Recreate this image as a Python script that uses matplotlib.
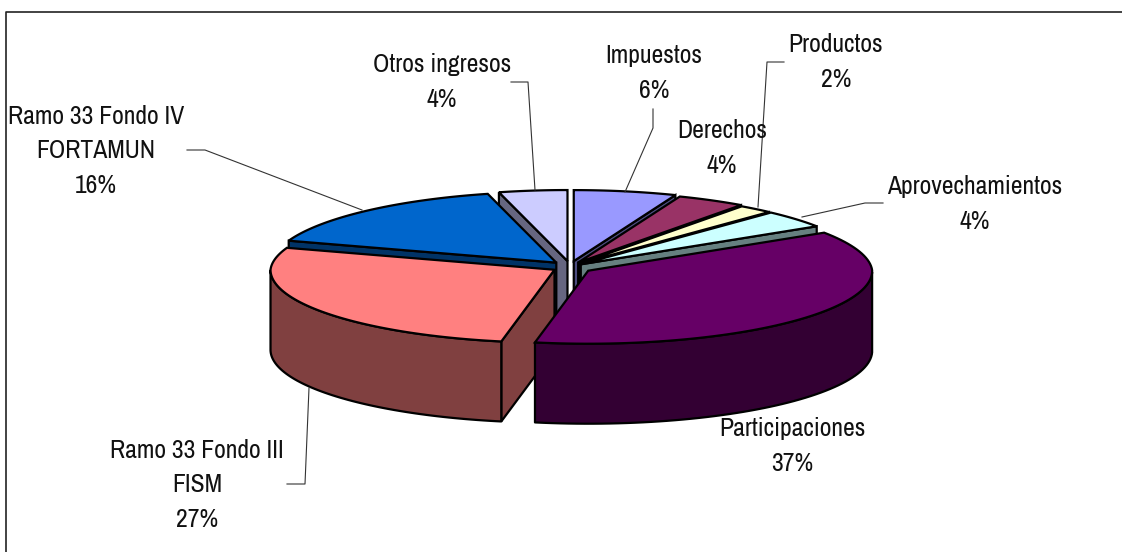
import numpy as np
import matplotlib
matplotlib.use("Agg")
import matplotlib.pyplot as plt
from matplotlib.patches import Polygon

# ---- data ----
categories = ["Impuestos", "Derechos", "Productos", "Aprovechamientos",
              "Participaciones", "Ramo 33 Fondo III\nFISM",
              "Ramo 33 Fondo IV\nFORTAMUN", "Otros ingresos"]
shares = [6, 4, 2, 4, 37, 27, 16, 4]

# ---- styles ----
top_colors = ["#9999FF", "#993366", "#FFFFCC", "#CCFFFF",
              "#660066", "#FF8080", "#0066CC", "#CCCCFF"]
wall_colors = ["#4D4D80", "#4D1A33", "#808066", "#668080",
               "#330033", "#804040", "#003366", "#666680"]
explode = [20, 17, 14, 14, 22, 18, 20, 20]
draw_order = [7, 0, 1, 2, 3, 6, 5, 4]
label_pos = [(654, 73), (722, 148), (836, 62), (975, 204),
             (792, 446), (197, 485), (96, 151), (442, 82)]

CX, CY = 570, 267
A, B_FRONT, B_BACK, DEPTH = 284, 73, 71, 80
NARROW_BACK = 0.03
EXPLODE_Y = 0.3

fig = plt.figure(figsize=(11.22, 5.52), dpi=100)
ax = fig.add_axes([0, 0, 1, 1])
ax.set_xlim(0, 1122)
ax.set_ylim(552, 0)
ax.axis("off")

# frame
ax.plot([6, 6, 1122], [552, 12, 12], color="#222222", lw=1.2, zorder=1)


def rim(tx, ty, th):
    s = np.sin(th)
    x = tx + A * np.cos(th) * (1 - NARROW_BACK * np.clip(s, 0, 1))
    y = ty - np.where(s > 0, B_BACK, B_FRONT) * s
    return x, y


cum = np.concatenate([[0], np.cumsum(shares)]) / np.sum(shares) * 360
LW = 1.6
z = 2
for i in draw_order:
    a0 = np.radians(90 - cum[i])
    a1 = np.radians(90 - cum[i + 1])
    mid = (a0 + a1) / 2
    tx = CX + explode[i] * np.cos(mid)
    ty = CY - explode[i] * np.sin(mid) * EXPLODE_Y
    th = np.linspace(a0, a1, 80)
    ex, ey = rim(tx, ty, th)

    # radial faces that look towards the viewer
    faces = []
    if np.cos(a0) < -1e-9:
        faces.append(0)
    if np.cos(a1) > 1e-9:
        faces.append(-1)
    for k in faces:
        quad = [(tx, ty), (ex[k], ey[k]), (ex[k], ey[k] + DEPTH), (tx, ty + DEPTH)]
        ax.add_patch(Polygon(quad, closed=True, fc=wall_colors[i], ec="black",
                             lw=LW, joinstyle="miter", zorder=z))
        z += 1
    # outer wall (front half only)
    front = np.sin(th) < 0
    if front.any():
        fx, fy = ex[front], ey[front]
        wall = np.vstack([np.column_stack([fx, fy]),
                          np.column_stack([fx[::-1], fy[::-1] + DEPTH])])
        ax.add_patch(Polygon(wall, closed=True, fc=wall_colors[i], ec="black",
                             lw=LW, joinstyle="round", zorder=z))
        z += 1
    # top
    top = np.vstack([[tx, ty], np.column_stack([ex, ey])])
    ax.add_patch(Polygon(top, closed=True, fc=top_colors[i], ec="black",
                         lw=LW, joinstyle="miter", zorder=z))
    z += 1

# leader lines
leaders = [
    ([653, 653, 625], [109, 128, 192]),
    ([784, 767, 758], [62, 62, 207]),
    ([883, 865, 802], [203, 203, 217]),
    ([287, 305, 309], [484, 484, 388]),
    ([187, 205, 362], [150, 150, 210]),
    ([511, 528, 535], [82, 82, 190]),
]
for xs, ys in leaders:
    ax.plot(xs, ys, color="#333333", lw=0.8, zorder=z + 1)

for name, s, (x, y) in zip(categories, shares, label_pos):
    ax.text(x, y, f"{name}\n{s}%", ha="center", va="center", ma="center",
            family=["Archivo Narrow", "Liberation Sans"], fontsize=18.5,
            color="#111111", linespacing=1.6, zorder=z + 2)

fig.savefig("out.png", dpi=100)
